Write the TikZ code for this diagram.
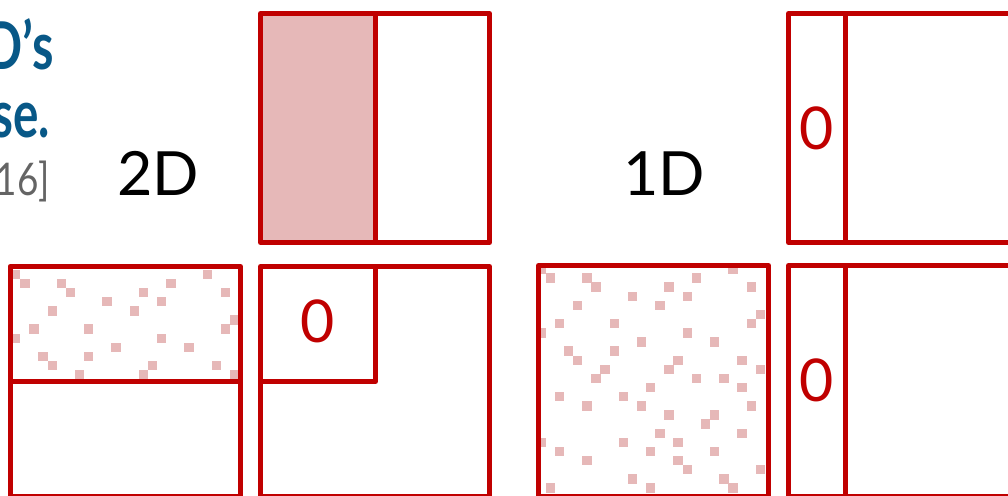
\documentclass[tikz,border=0pt]{standalone}
\usepackage{fontspec}
\setmainfont{Lato}
\definecolor{myred}{RGB}{192,0,0}
\definecolor{mypink}{RGB}{230,184,184}
\definecolor{myblue}{RGB}{8,88,135}
\definecolor{mygray}{RGB}{100,100,100}
\newcommand\dotsA{0/0,21/0,1/1,5/1,17/1,6/2,14/2,23/2,10/3,16/3,4/4,13/4,24/5,2/6,8/6,23/6,0/7,16/7,11/8,19/8,3/9,8/9,4/10,15/10,22/10,7/11,14/11,24/11}
\newcommand\dotsB{6/12,17/12,20/12,12/13,22/13,2/14,9/14,5/15,11/15,23/15,14/16,19/16,18/17,13/18,22/18,0/19,9/19,15/19,2/20,12/20,19/20,5/21,15/21,16/22,24/22,10/23,20/23,1/24,12/24,21/24}
\begin{document}
\begin{tikzpicture}[x=1pt,y=-1pt,
  box/.style={draw=myred,line width=5pt,line join=round},
  dotsq/.style={fill=mypink},
  lbl/.style={font=\fontsize{61}{61}\selectfont,text=black,inner sep=0pt,anchor=base},
  zero/.style={font=\fontsize{59}{59}\selectfont,text=myred,inner sep=0pt},
  ttl/.style={font=\bfseries\fontsize{66}{66}\selectfont,text=myblue,inner sep=0pt,anchor=base east},
  cite/.style={font=\fontsize{45}{45}\selectfont,text=mygray,inner sep=0pt,anchor=base east}]
\useasboundingbox (0,0) rectangle (1008,495);
\clip (0,0) rectangle (1008,495);
\fill[white] (0,0) rectangle (1008,495);
% left cut-off texts
\node[ttl] (t1) at (54,70) {\scalebox{0.74}[1]{D’s}};
\node[ttl] (t2) at (50,137) {\scalebox{0.72}[1]{se.}};
\node[cite] (t3) at (50,195) {\scalebox{0.82}[1]{16]}};
% labels
\node[lbl] (l2d) at (158,195) {2D};
\node[lbl] (l1d) at (664,195) {1D};
% top middle box
\fill[mypink] (260.5,13.5) rectangle (375.5,242.5);
\draw[box] (260.5,13.5) rectangle (489.5,242.5);
\draw[box] (375.5,13.5) -- (375.5,242.5);
% top right box
\draw[box] (1030,13.5) -- (788.5,13.5) -- (788.5,242.5) -- (1030,242.5);
\draw[box] (845.5,13.5) -- (845.5,242.5);
\node[zero] (z1) at (817,128) {0};
% bottom left (2D) box
\foreach \c/\r in \dotsA {\fill[dotsq] ({11+9.13*\c},{269.7+9.13*\r}) rectangle +(9.4,9.4);}
\draw[box] (10,266.5) rectangle (240.5,496.5);
\draw[box] (10,381.5) -- (240.5,381.5);
% bottom middle box
\draw[box] (260.5,266.5) rectangle (489.5,496.5);
\draw[box] (260.5,381.5) -- (375.5,381.5) -- (375.5,266.5);
\node[zero] (z2) at (318,321.5) {0};
% bottom 1D box
\foreach \c/\r in \dotsA {\fill[dotsq] ({536.5+9.13*\c},{264.2+9.13*\r}) rectangle +(9.4,9.4);}
\foreach \c/\r in \dotsB {\fill[dotsq] ({536.5+9.13*\c},{264.2+9.13*\r}) rectangle +(9.4,9.4);}
\draw[box] (538.5,265.5) rectangle (768.5,496.5);
% bottom right box
\draw[box] (1030,265.5) -- (788.5,265.5) -- (788.5,496.5) -- (1030,496.5);
\draw[box] (845.5,265.5) -- (845.5,496.5);
\node[zero] (z3) at (817,380) {0};
\end{tikzpicture}
\end{document}
